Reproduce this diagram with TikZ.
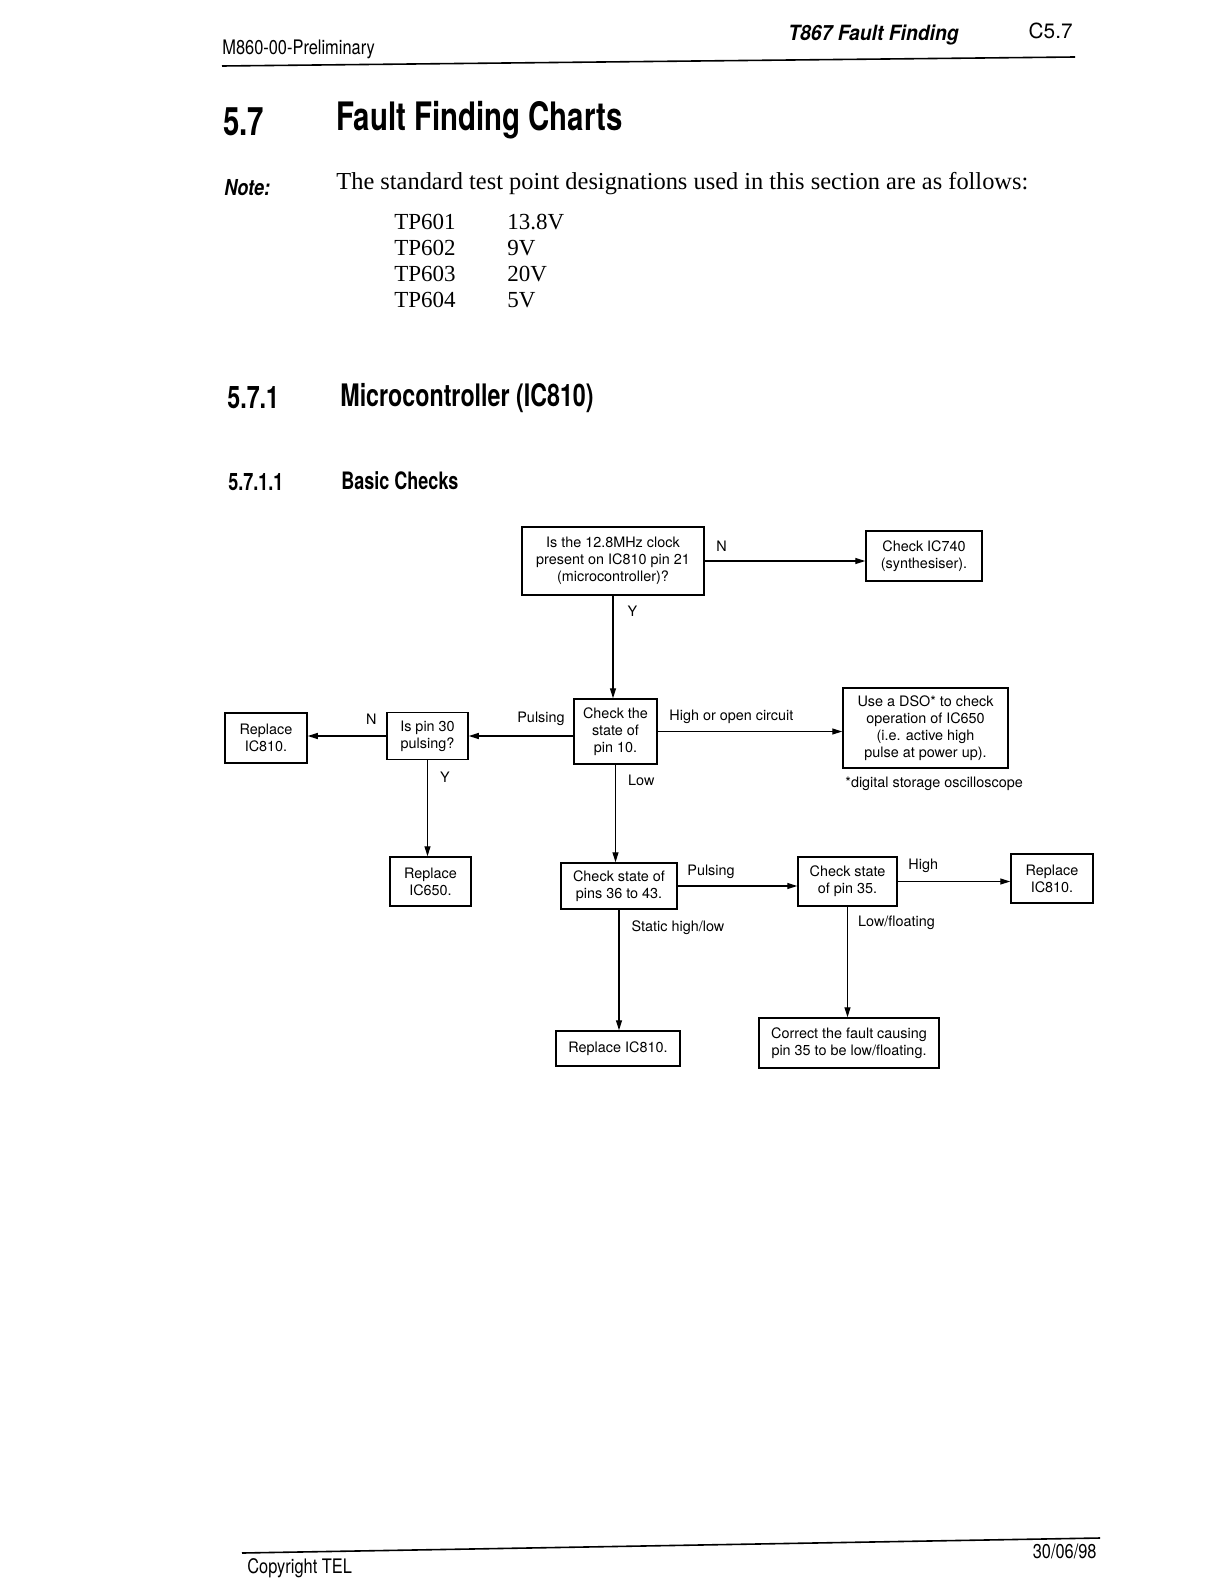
\documentclass[tikz,border=0pt]{standalone}
\usepackage{fontspec}
\setmainfont{Liberation Serif}
\setsansfont{TeX Gyre Heros}
\newfontfamily\condfont[FakeStretch=0.75]{TeX Gyre Heros}
\newfontfamily\narrowfont[FakeStretch=0.82]{TeX Gyre Heros}
\newfontfamily\headfont[FakeStretch=0.92]{TeX Gyre Heros}
\usetikzlibrary{positioning,arrows.meta}

\begin{document}
\begin{tikzpicture}[
  x=0.5pt, y=-0.5pt,
  box/.style={rectangle, draw=black, line width=0.75pt, inner sep=1pt, fill=white,
              align=center, font=\sffamily\fontsize{7.2}{8.5}\selectfont},
  lbl/.style={inner sep=0pt, font=\sffamily\fontsize{7.2}{8.5}\selectfont},
  arr/.style={-{Triangle[length=5pt,width=3pt]}, line width=0.65pt},
  rule/.style={line width=0.8pt},
  txt/.style={inner sep=0pt, anchor=base west}
]
\fill[white] (0,0) rectangle (1221,1584);
\useasboundingbox (0,0) rectangle (1221,1584);

% page head
\node[txt, font=\narrowfont\fontsize{10}{12}\selectfont] (docid) at (222,55) {M860-00-Preliminary};
\node[txt, font=\headfont\bfseries\itshape\fontsize{10.5}{12}\selectfont] (hdtitle) at (788,41) {T867 Fault Finding};
\node[txt, anchor=base east, font=\sffamily\fontsize{10.4}{12}\selectfont] (hdpage) at (1073,39) {C5.7};
\draw[rule] (222,66) -- (1075,57);

\node[txt, font=\condfont\bfseries\fontsize{19.6}{22}\selectfont] (secnum) at (223,135) {5.7};
\node[txt, font=\condfont\bfseries\fontsize{19.6}{22}\selectfont] (sectitle) at (336,131) {Fault Finding Charts};

\node[txt, font=\narrowfont\bfseries\itshape\fontsize{11}{13}\selectfont] (notelbl) at (224,195) {Note:};
\node[txt, font=\fontsize{12.2}{14}\selectfont] (notetxt) at (336,189) {The standard test point designations used in this section are as follows:};
\node[txt, font=\fontsize{11.5}{14}\selectfont] (tpa) at (394,229) {TP601};
\node[txt, font=\fontsize{11.5}{14}\selectfont] (tpb) at (394,255) {TP602};
\node[txt, font=\fontsize{11.5}{14}\selectfont] (tpc) at (394,281) {TP603};
\node[txt, font=\fontsize{11.5}{14}\selectfont] (tpd) at (394,307) {TP604};
\node[txt, font=\fontsize{11.5}{14}\selectfont] (va) at (507,229) {13.8V};
\node[txt, font=\fontsize{11.5}{14}\selectfont] (vb) at (507,255) {9V};
\node[txt, font=\fontsize{11.5}{14}\selectfont] (vc) at (507,281) {20V};
\node[txt, font=\fontsize{11.5}{14}\selectfont] (vd) at (507,307) {5V};

\node[txt, font=\condfont\bfseries\fontsize{15.5}{18}\selectfont] (subnum) at (227,408) {5.7.1};
\node[txt, font=\condfont\bfseries\fontsize{15.5}{18}\selectfont] (subtitle) at (340,406) {Microcontroller (IC810)};
\node[txt, font=\condfont\bfseries\fontsize{12}{14}\selectfont] (ssnum) at (228,490) {5.7.1.1};
\node[txt, font=\condfont\bfseries\fontsize{12}{14}\selectfont] (sstitle) at (341,489) {Basic Checks};

% chart
\node[box, minimum width=91pt, minimum height=34pt] (q1) at (613,561) {Is the 12.8MHz clock\\present on IC810 pin 21\\(microcontroller)?};
\node[box, minimum width=58pt, minimum height=25pt] (ic740) at (924,556) {Check IC740\\(synthesiser).};
\node[box, minimum width=41.5pt, minimum height=32.5pt] (pin10) at (615.5,731.5) {Check the\\state of\\pin 10.};
\node[box, minimum width=82.5pt, minimum height=40pt] (dso) at (925.5,728) {Use a DSO* to check\\operation of IC650\\(i.e. active high\\pulse at power up).};
\node[lbl, anchor=west] (dsonote) at (845,784) {*digital storage oscilloscope};
\node[box, minimum width=40.5pt, minimum height=23.5pt] (pin30) at (427.5,736) {Is pin 30\\pulsing?};
\node[box, minimum width=41pt, minimum height=25pt] (rep1) at (266,738) {Replace\\IC810.};
\node[box, minimum width=40.5pt, minimum height=24.5pt] (rep650) at (430.5,881.5) {Replace\\IC650.};
\node[box, minimum width=58pt, minimum height=23pt] (pins36) at (619,886) {Check state of\\pins 36 to 43.};
\node[box, minimum width=49.5pt, minimum height=24.5pt] (pin35) at (847.5,881.5) {Check state\\of pin 35.};
\node[box, minimum width=41pt, minimum height=24.5pt] (rep3) at (1052,878.5) {Replace\\IC810.};
\node[box, minimum width=62pt, minimum height=17.5pt] (rep2) at (618,1048.5) {Replace IC810.};
\node[box, minimum width=90pt, minimum height=25pt] (fix35) at (849,1043) {Correct the fault causing\\pin 35 to be low/floating.};

\draw[arr] (q1.east) -- node[lbl, at start, anchor=west, xshift=5.5pt, yshift=7.5pt] {N} (q1.east -| ic740.west);
\draw[arr] (q1.south) -- node[lbl, at start, anchor=west, xshift=7pt, yshift=-7.5pt] {Y} (q1.south |- pin10.north);
\draw[arr] (pin10.east) -- node[lbl, at start, anchor=west, xshift=5.5pt, yshift=7.5pt] {High or open circuit} (pin10.east -| dso.west);
\draw[arr] (pin10.west |- pin30.east) -- node[lbl, at start, anchor=east, xshift=-4pt, yshift=8.5pt] {Pulsing} (pin30.east);
\draw[arr] (pin30.west) -- node[lbl, at start, anchor=east, xshift=-4.5pt, yshift=8.5pt] {N} (pin30.west -| rep1.east);
\draw[arr] (pin30.south) -- node[lbl, at start, anchor=west, xshift=6pt, yshift=-8.5pt] {Y} (pin30.south |- rep650.north);
\draw[arr] (pin10.south) -- node[lbl, at start, anchor=west, xshift=6pt, yshift=-8pt] {Low} (pin10.south |- pins36.north);
\draw[arr] (pins36.east) -- node[lbl, at start, anchor=west, xshift=4.5pt, yshift=7pt] {Pulsing} (pins36.east -| pin35.west);
\draw[arr] (pins36.south) -- node[lbl, at start, anchor=west, xshift=6pt, yshift=-9pt] {Static high/low} (pins36.south |- rep2.north);
\draw[arr] (pin35.east) -- node[lbl, at start, anchor=west, xshift=5pt, yshift=8pt] {High} (pin35.east -| rep3.west);
\draw[arr] (pin35.south) -- node[lbl, at start, anchor=west, xshift=5pt, yshift=-8pt] {Low/floating} (pin35.south |- fix35.north);

% page foot
\draw[rule] (242,1553) -- (1100,1538);
\node[txt, font=\narrowfont\fontsize{10}{12}\selectfont] (copy) at (247,1573) {Copyright TEL};
\node[txt, anchor=base east, font=\narrowfont\fontsize{10}{12}\selectfont] (date) at (1097,1558) {30/06/98};
\end{tikzpicture}
\end{document}
